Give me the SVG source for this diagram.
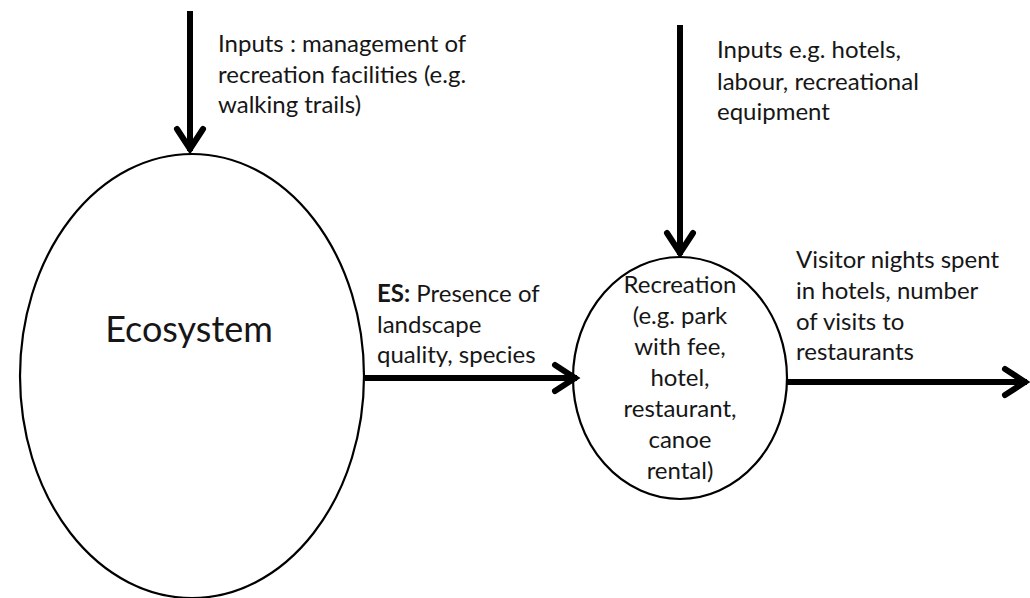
<svg xmlns="http://www.w3.org/2000/svg" width="1030" height="598" viewBox="0 0 1030 598">
<style>
.node{fill:#fff;stroke:#000;stroke-width:2.2}
.conn{stroke:#000;stroke-width:6;fill:none}
.t{font-family:Lato,"Liberation Sans",Arial,sans-serif;font-size:24px;fill:#161616}
.big{font-size:36px}
.c{text-anchor:middle}
</style>
<defs>
<marker id="chev" viewBox="-30 -20 34 40" markerWidth="34" markerHeight="40" refX="0" refY="0" orient="auto" markerUnits="userSpaceOnUse">
<path d="M-22,-13 L-2,0 L-22,13" fill="none" stroke="#000" stroke-width="6" stroke-linecap="round" stroke-linejoin="miter"/>
</marker>
</defs>
<rect width="1030" height="598" fill="#fff"/>
<g id="ecosystem">
<ellipse class="node" cx="192" cy="376" rx="172" ry="222"/>
<text class="t big c" x="189" y="342">Ecosystem</text>
</g>
<g id="recreation">
<ellipse class="node" cx="680" cy="378" rx="107" ry="121"/>
<text class="t c" x="680" y="293">Recreation</text>
<text class="t c" x="680" y="324">(e.g. park</text>
<text class="t c" x="680" y="355">with fee,</text>
<text class="t c" x="680" y="386">hotel,</text>
<text class="t c" x="680" y="417">restaurant,</text>
<text class="t c" x="680" y="448">canoe</text>
<text class="t c" x="680" y="479">rental)</text>
</g>
<g id="connectors">
<line class="conn" x1="190" y1="11" x2="190" y2="151" marker-end="url(#chev)"/>
<line class="conn" x1="680" y1="25" x2="680" y2="255" marker-end="url(#chev)"/>
<line class="conn" x1="365" y1="378" x2="577" y2="378" marker-end="url(#chev)"/>
<line class="conn" x1="787" y1="382" x2="1027" y2="382" marker-end="url(#chev)"/>
</g>
<g id="labels">
<text class="t" x="218" y="52">Inputs : management of</text>
<text class="t" x="218" y="83">recreation facilities (e.g.</text>
<text class="t" x="218" y="113">walking trails)</text>
<text class="t" x="717" y="58">Inputs e.g. hotels,</text>
<text class="t" x="717" y="90">labour, recreational</text>
<text class="t" x="717" y="120">equipment</text>
<text class="t" x="377" y="302"><tspan font-weight="bold">ES:</tspan> Presence of</text>
<text class="t" x="377" y="333">landscape</text>
<text class="t" x="377" y="363">quality, species</text>
<text class="t" x="796" y="268">Visitor nights spent</text>
<text class="t" x="796" y="299">in hotels, number</text>
<text class="t" x="796" y="330">of visits to</text>
<text class="t" x="796" y="360">restaurants</text>
</g>
</svg>
